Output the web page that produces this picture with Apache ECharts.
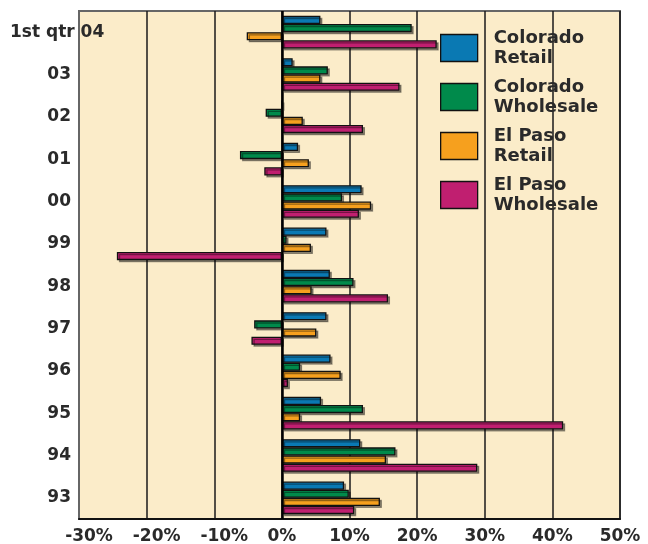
<!DOCTYPE html>
<html><head><meta charset="utf-8">
<script src="https://cdn.jsdelivr.net/npm/echarts@6/dist/echarts.min.js"></script>
<style>html,body{margin:0;padding:0;background:#fff}#c{width:648px;height:544px}</style>
</head><body><div id="c"></div>
<script>
const categories = ['1st qtr 04','03','02','01','00','99','98','97','96','95','94','93'];
const seriesNames = ['Colorado\nRetail','Colorado\nWholesale','El Paso\nRetail','El Paso\nWholesale'];
const coloradoRetail    = [5.7, 1.6, 0,   2.4, 11.8, 6.6,  7.1, 6.6,  7.2, 5.8, 11.6, 9.2];
const coloradoWholesale = [19.2, 6.8, -2.4, -6.2, 8.9, 0.7, 10.6, -4.1, 2.7, 12.0, 16.8, 9.9];
const elPasoRetail      = [-5.2, 5.7, 3.1, 4.0, 13.2, 4.3, 4.4, 5.1, 8.7, 2.7, 15.4, 14.5];
const elPasoWholesale   = [22.9, 17.4, 12.0, -2.6, 11.4, -24.4, 15.7, -4.5, 0.9, 41.6, 28.9, 10.7];
const xTicks = {min: -30, max: 50, interval: 10};

const colors = ['#0a79b3', '#008a4b', '#f6a01e', '#c01f70'];
const font = 'DejaVu Sans';
const txt = '#2a2a2a';
const values = [coloradoRetail, coloradoWholesale, elPasoRetail, elPasoWholesale];

const chart = echarts.init(document.getElementById('c'));
const series = values.map((v, i) => ({
  name: seriesNames[i],
  type: 'bar',
  data: v,
  barGap: '0%',
  barCategoryGap: '23%',
  itemStyle: {
    color: colors[i], borderColor: '#111', borderWidth: 1.3,
    shadowColor: 'rgba(0,0,0,0.4)', shadowBlur: 0, shadowOffsetX: 2, shadowOffsetY: 2
  },
  animation: false,
  z: 3
}));
series[0].markLine = {
  silent: true, symbol: ['none', 'none'], label: {show: false},
  lineStyle: {color: '#000', width: 2.5, type: 'solid'},
  data: [{xAxis: 0}], animation: false, z: 5
};

const lblStyle = {fontFamily: font, fontWeight: 'bold', fontSize: 17, color: txt};

chart.setOption({
  animation: false,
  color: colors,
  grid: {left: 79, right: 28, top: 11, bottom: 25, show: true, outerBoundsMode: 'none', containLabel: false,
         backgroundColor: '#fbecc9', borderColor: '#666', borderWidth: 2},
  legend: {
    left: 440, top: 28, orient: 'vertical', padding: 0,
    itemWidth: 37, itemHeight: 27, itemGap: 9,
    icon: 'rect',
    itemStyle: {borderColor: '#111', borderWidth: 1.3},
    textStyle: {fontFamily: font, fontWeight: 'bold', fontSize: 18, lineHeight: 20,
                color: txt, padding: [0, 0, 0, 11]},
    data: seriesNames
  },
  xAxis: {
    type: 'value', min: xTicks.min, max: xTicks.max, interval: xTicks.interval,
    axisLine: {show: true, lineStyle: {color: '#111', width: 2}},
    axisTick: {show: false},
    splitLine: {show: true, lineStyle: {color: '#1a1a1a', width: 1.5}},
    axisLabel: Object.assign({
      margin: 9,
      formatter: v => v < 0 ? '{neg|' + v + '%}' : v + '%',
      rich: {neg: Object.assign({padding: [0, 0, 0, 20]}, lblStyle)}
    }, lblStyle)
  },
  yAxis: {
    type: 'category', data: categories, inverse: true,
    axisLine: {show: true, onZero: false, lineStyle: {color: '#666', width: 2}},
    axisTick: {show: false},
    splitLine: {show: false},
    axisLabel: Object.assign({
      margin: 69, align: 'left',
      formatter: (v, i) => i === 0 ? '{f|' + v + '}' : '{r|' + v + '}',
      rich: {
        f: Object.assign({}, lblStyle),
        r: Object.assign({width: 61, align: 'right'}, lblStyle)
      }
    }, lblStyle)
  },
  series: series
});
</script></body></html>
